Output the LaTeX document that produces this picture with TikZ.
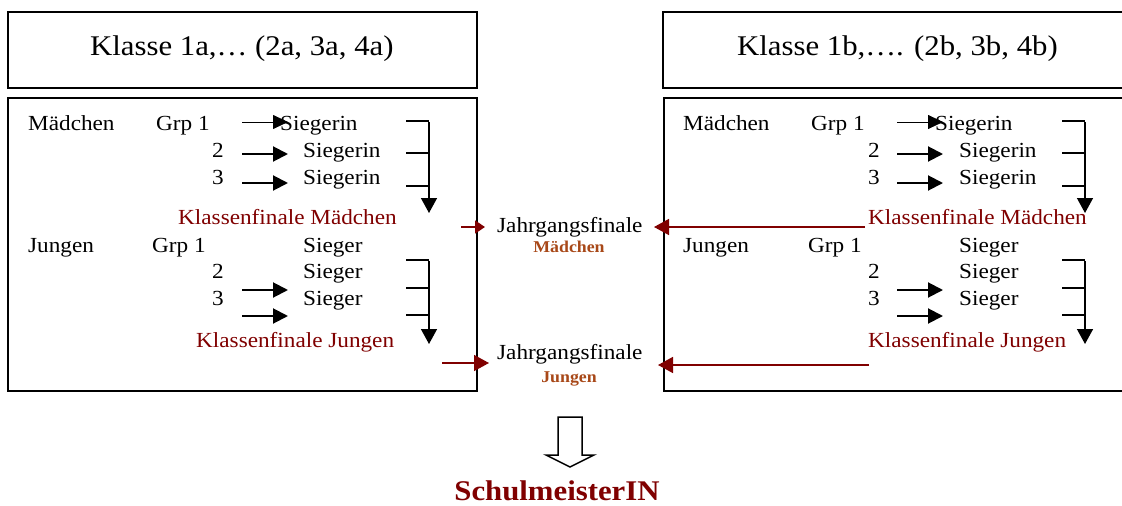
\documentclass[tikz,border=0pt]{standalone}
\usepackage{fontspec}
\setmainfont{Liberation Serif}[FakeStretch=1.08]
\usetikzlibrary{arrows.meta}
\definecolor{dred}{HTML}{800000}
\definecolor{brn}{HTML}{A84818}
\begin{document}
\begin{tikzpicture}[x=1pt,y=-1pt,
  txt/.style={anchor=base west, inner sep=0pt, font=\fontsize{21.5}{25}\selectfont},
  rtxt/.style={txt, text=dred},
  ttl/.style={anchor=base west, inner sep=0pt, font=\fontsize{28.5}{34}\selectfont},
  sub/.style={anchor=base, inner sep=0pt, font=\fontsize{16.5}{20}\selectfont\bfseries, text=brn},
  frame/.style={draw, line width=1.5pt},
  thinarr/.style={line width=0.8pt, -{Triangle[length=15pt,width=14pt]}},
  thickarr/.style={line width=2pt, -{Triangle[length=15pt,width=15pt]}},
  brk/.style={line width=1.5pt},
  brkarr/.style={line width=1.5pt, -{Triangle[length=15pt,width=16pt]}},
  redarrS/.style={line width=1.5pt, draw=dred, -{Triangle[length=10pt,width=13pt,fill=dred]}},
  redarrL/.style={line width=1.5pt, draw=dred, -{Triangle[length=15pt,width=16pt,fill=dred]}},
]
\useasboundingbox (0,0) rectangle (1122,506);
\fill[white] (0,0) rectangle (1122,506);

% frames
\draw[frame] (8,12) rectangle (477,88);
\draw[frame] (8,98) rectangle (477,391);
\draw[frame] (663,12) rectangle (1130,88);
\draw[frame] (664,98) rectangle (1130,391);

% titles
\node[ttl] (t1) at (90,55) {Klasse 1a,… (2a, 3a, 4a)};
\node[ttl] (t2) at (737,55) {Klasse 1b,…. (2b, 3b, 4b)};

% ---------- left panel ----------
\node[txt] (lm) at (28,130) {Mädchen};
\node[txt] (lg1) at (156,130) {Grp 1};
\node[txt] (ls1) at (280,130) {Siegerin};
\node[txt] (l2) at (212,157) {2};
\node[txt] (ls2) at (303,157) {Siegerin};
\node[txt] (l3) at (212,184) {3};
\node[txt] (ls3) at (303,184) {Siegerin};
\node[rtxt] (lkm) at (178,224) {Klassenfinale Mädchen};
\node[txt] (lj) at (28,252) {Jungen};
\node[txt] (lgj) at (152,252) {Grp 1};
\node[txt] (lsj1) at (303,252) {Sieger};
\node[txt] (lj2) at (212,278) {2};
\node[txt] (lsj2) at (303,278) {Sieger};
\node[txt] (lj3) at (212,305) {3};
\node[txt] (lsj3) at (303,305) {Sieger};
\node[rtxt] (lkj) at (196,347) {Klassenfinale Jungen};

\coordinate (la1s) at (242,122); \coordinate (la1e) at (288,122);
\coordinate (la2s) at (242,154); \coordinate (la2e) at (288,154);
\coordinate (la3s) at (242,183); \coordinate (la3e) at (288,183);
\coordinate (la4s) at (242,290); \coordinate (la4e) at (288,290);
\coordinate (la5s) at (242,316); \coordinate (la5e) at (288,316);
\draw[thinarr] (la1s) -- (la1e);
\draw[thickarr] (la2s) -- (la2e);
\draw[thickarr] (la3s) -- (la3e);
\draw[thickarr] (la4s) -- (la4e);
\draw[thickarr] (la5s) -- (la5e);

\coordinate (lb1) at (406,121); \coordinate (lb1r) at (429,121);
\coordinate (lb2) at (406,153); \coordinate (lb2r) at (429,153);
\coordinate (lb3) at (406,186); \coordinate (lb3r) at (429,186);
\coordinate (lbt) at (429,213);
\draw[brk] (lb1) -- (lb1r); \draw[brk] (lb2) -- (lb2r); \draw[brk] (lb3) -- (lb3r);
\draw[brkarr] ([yshift=-0.75pt]lb1r) -- (lbt);

\coordinate (lc1) at (406,260); \coordinate (lc1r) at (429,260);
\coordinate (lc2) at (406,288); \coordinate (lc2r) at (429,288);
\coordinate (lc3) at (406,315); \coordinate (lc3r) at (429,315);
\coordinate (lct) at (429,344);
\draw[brk] (lc1) -- (lc1r); \draw[brk] (lc2) -- (lc2r); \draw[brk] (lc3) -- (lc3r);
\draw[brkarr] ([yshift=-0.75pt]lc1r) -- (lct);

% ---------- right panel ----------
\node[txt] (rm) at (683,130) {Mädchen};
\node[txt] (rg1) at (811,130) {Grp 1};
\node[txt] (rs1) at (935,130) {Siegerin};
\node[txt] (r2) at (868,157) {2};
\node[txt] (rs2) at (959,157) {Siegerin};
\node[txt] (r3) at (868,184) {3};
\node[txt] (rs3) at (959,184) {Siegerin};
\node[rtxt] (rkm) at (868,224) {Klassenfinale Mädchen};
\node[txt] (rj) at (683,252) {Jungen};
\node[txt] (rgj) at (808,252) {Grp 1};
\node[txt] (rsj1) at (959,252) {Sieger};
\node[txt] (rj2) at (868,278) {2};
\node[txt] (rsj2) at (959,278) {Sieger};
\node[txt] (rj3) at (868,305) {3};
\node[txt] (rsj3) at (959,305) {Sieger};
\node[rtxt] (rkj) at (868,347) {Klassenfinale Jungen};

\coordinate (ra1s) at (897,122); \coordinate (ra1e) at (943,122);
\coordinate (ra2s) at (897,154); \coordinate (ra2e) at (943,154);
\coordinate (ra3s) at (897,183); \coordinate (ra3e) at (943,183);
\coordinate (ra4s) at (897,290); \coordinate (ra4e) at (943,290);
\coordinate (ra5s) at (897,316); \coordinate (ra5e) at (943,316);
\draw[thinarr] (ra1s) -- (ra1e);
\draw[thickarr] (ra2s) -- (ra2e);
\draw[thickarr] (ra3s) -- (ra3e);
\draw[thickarr] (ra4s) -- (ra4e);
\draw[thickarr] (ra5s) -- (ra5e);

\coordinate (rb1) at (1062,121); \coordinate (rb1r) at (1085,121);
\coordinate (rb2) at (1062,153); \coordinate (rb2r) at (1085,153);
\coordinate (rb3) at (1062,186); \coordinate (rb3r) at (1085,186);
\coordinate (rbt) at (1085,213);
\draw[brk] (rb1) -- (rb1r); \draw[brk] (rb2) -- (rb2r); \draw[brk] (rb3) -- (rb3r);
\draw[brkarr] ([yshift=-0.75pt]rb1r) -- (rbt);

\coordinate (rc1) at (1062,260); \coordinate (rc1r) at (1085,260);
\coordinate (rc2) at (1062,288); \coordinate (rc2r) at (1085,288);
\coordinate (rc3) at (1062,315); \coordinate (rc3r) at (1085,315);
\coordinate (rct) at (1085,344);
\draw[brk] (rc1) -- (rc1r); \draw[brk] (rc2) -- (rc2r); \draw[brk] (rc3) -- (rc3r);
\draw[brkarr] ([yshift=-0.75pt]rc1r) -- (rct);

% ---------- middle ----------
\node[txt] (jm) at (497,232) {Jahrgangsfinale};
\node[sub] (jms) at (569,252) {Mädchen};
\node[txt] (jj) at (497,359) {Jahrgangsfinale};
\node[sub] (jjs) at (569,382) {Jungen};

\coordinate (lrm) at (461,227); \coordinate (lrmT) at (485,227);
\coordinate (lrj) at (442,363); \coordinate (lrjT) at (489,363);
\coordinate (rrm) at (865,227); \coordinate (rrmT) at (654,227);
\coordinate (rrj) at (869,365); \coordinate (rrjT) at (658,365);
\draw[redarrS] (lrm) -- (lrmT);
\draw[redarrL] (lrj) -- (lrjT);
\draw[redarrL] (rrm) -- (rrmT);
\draw[redarrL] (rrj) -- (rrjT);

% open arrow down
\draw[line width=1.5pt, fill=white] (558,417) -- (582,417) -- (582,455) -- (594,455)
  -- (570,467) -- (546,455) -- (558,455) -- cycle;

\node[anchor=base, inner sep=0pt, font=\fontsize{28.5}{34}\selectfont\bfseries, text=dred]
  (sm) at (557,500) {SchulmeisterIN};
\end{tikzpicture}
\end{document}
